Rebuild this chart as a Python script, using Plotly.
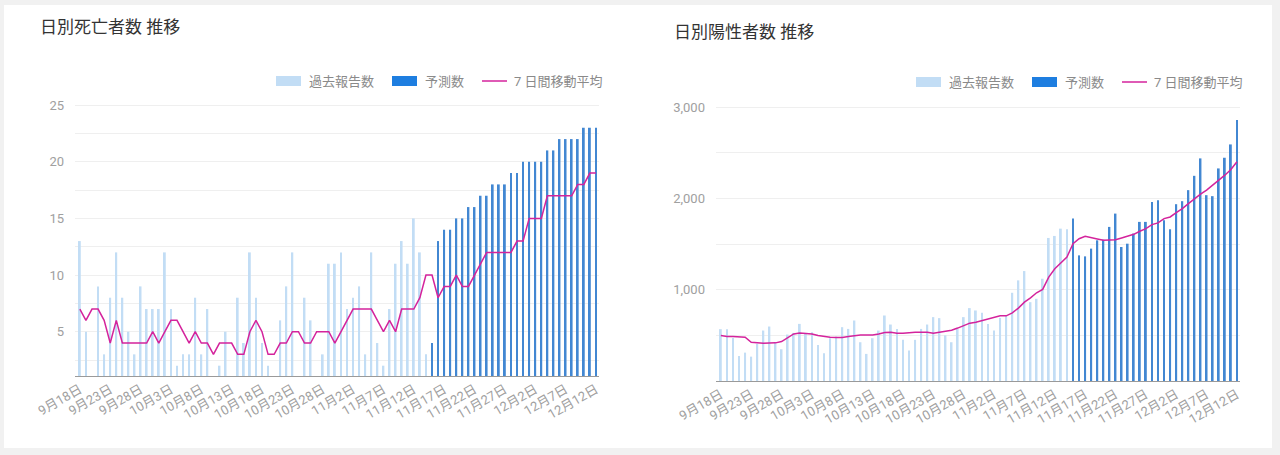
from datetime import date, timedelta

from plotly.graph_objs import Figure, Bar, Scatter

# ---- data -------------------------------------------------------------
START = date(2020, 9, 18)
N_DAYS = 86
DATES = [f"{d.month}月{d.day}日" for d in (START + timedelta(days=i) for i in range(N_DAYS))]
TICK_DATES = DATES[::5]

# deaths per day (reported) 9/18 - 11/14
DEATHS_PAST = [13, 5, 1, 9, 3, 8, 12, 8, 5, 3, 9, 7, 7, 7, 12, 7, 2, 3, 3, 8,
               3, 7, 1, 2, 5, 1, 8, 4, 12, 8, 4, 2, 1, 6, 9, 12, 1, 8, 6, 1,
               3, 11, 11, 12, 7, 8, 9, 3, 12, 4, 2, 7, 11, 13, 11, 15, 12, 3]
# deaths per day (forecast) 11/15 - 12/12
DEATHS_FORECAST = [4, 13, 14, 14, 15, 15, 16, 16, 17, 17, 18, 18, 18, 19, 19, 20,
                   20, 20, 20, 21, 21, 22, 22, 22, 22, 23, 23, 23]
DEATHS_MA = [7, 6, 7, 7, 6, 4, 6, 4, 4, 4, 4, 4, 5, 4, 5, 6, 6, 5, 4, 5,
             4, 4, 3, 4, 4, 4, 3, 3, 5, 6, 5, 3, 3, 4, 4, 5, 5, 4, 4, 5,
             5, 5, 4, 5, 6, 7, 7, 7, 7, 6, 5, 6, 5, 7, 7, 7, 8, 10, 10, 8,
             9, 9, 10, 9, 9, 10, 11, 12, 12, 12, 12, 12, 13, 13, 15, 15, 15, 17, 17, 17,
             17, 17, 18, 18, 19, 19]
DEATHS_TICKS = [5, 10, 15, 20, 25]

# positive cases per day
POSITIVE_PAST = [568, 568, 470, 275, 311, 267, 407, 553, 597, 425, 348, 509, 527, 626, 527,
                 535, 395, 304, 469, 487, 590, 571, 663, 425, 297, 469, 553, 718, 619, 571,
                 451, 333, 451, 571, 619, 700, 689, 500, 425, 571, 700, 799, 773, 747, 626,
                 553, 692, 718, 967, 1103, 1205, 864, 901, 1121, 1568, 1590, 1670, 1663]
POSITIVE_FORECAST = [1780, 1377, 1366, 1451, 1542, 1549, 1689, 1835, 1469, 1505, 1615, 1744,
                     1744, 1963, 1982, 1762, 1663, 1938, 1971, 2092, 2249, 2440, 2037, 2026,
                     2330, 2447, 2593, 2861]
POSITIVE_MA = [498, 487, 487, 487, 480, 425, 418, 414, 416, 418, 432, 472, 516, 527, 524,
               516, 498, 487, 480, 476, 476, 487, 498, 505, 505, 505, 516, 531, 535, 524,
               524, 531, 535, 535, 535, 524, 535, 549, 556, 580, 608, 634, 645, 663, 681,
               700, 714, 714, 747, 799, 864, 912, 967, 1004, 1139, 1231, 1297, 1359, 1505,
               1560, 1586, 1568, 1557, 1542, 1542, 1549, 1568, 1586, 1608, 1641, 1670, 1714,
               1733, 1780, 1798, 1846, 1890, 1945, 2000, 2048, 2092, 2147, 2194, 2256, 2319,
               2403]
POSITIVE_TICKS = [1000, 2000, 3000]

LEGEND_LABELS = ['過去報告数', '予測数', '7 日間移動平均']

# ---- style ------------------------------------------------------------
W, H = 1280, 455
PAST_COLOUR = '#c2ddf5'
FORECAST_COLOUR = '#4287d2'
LEGEND_FORECAST_COLOUR = '#1e7ee0'
MA_COLOUR = '#d4239c'
GRID_COLOUR = '#efefef'
TICK_COLOUR = '#a0a0a0'
FONT = 'Roboto, "Noto Sans CJK JP", sans-serif'
BAR_WIDTH = 0.3


def px_x(x):
    return x / W


def px_y(y):
    return 1 - y / H


def add_panel(fig, col, past, forecast, ma, ticks, title, title_pos, x_dom, y_dom,
              y_range, legend_x, legend_y):
    """Add one bar + moving average panel to the figure"""
    xa = 'x' if col == 1 else 'x2'
    ya = 'y' if col == 1 else 'y2'
    n_past = len(past)
    fig.add_trace(Bar(x=DATES[:n_past], y=past, width=BAR_WIDTH,
                      marker=dict(color=PAST_COLOUR, line=dict(width=0)),
                      name=LEGEND_LABELS[0], xaxis=xa, yaxis=ya))
    fig.add_trace(Bar(x=DATES[n_past:], y=forecast, width=BAR_WIDTH,
                      marker=dict(color=FORECAST_COLOUR, line=dict(width=0)),
                      name=LEGEND_LABELS[1], xaxis=xa, yaxis=ya))
    fig.add_trace(Scatter(x=DATES, y=ma, mode='lines',
                          line=dict(color=MA_COLOUR, width=1.5),
                          name=LEGEND_LABELS[2], xaxis=xa, yaxis=ya))

    step = ticks[1] - ticks[0]
    axis_x = dict(domain=[px_x(x_dom[0]), px_x(x_dom[1])], anchor=ya, automargin=False,
                  type='category', range=[-0.8, N_DAYS - 0.5],
                  tickmode='array', tickvals=TICK_DATES, ticktext=TICK_DATES,
                  tickangle=-30, tickfont=dict(size=13, color=TICK_COLOUR),
                  showgrid=False, showline=True, linecolor='#9a9a9a', linewidth=1,
                  ticks='', zeroline=False)
    axis_y = dict(domain=[px_y(y_dom[1]), px_y(y_dom[0])], anchor=xa, automargin=False,
                  range=y_range, tickmode='array', tickvals=ticks, tickformat=',d',
                  tickfont=dict(size=13, color=TICK_COLOUR),
                  showgrid=True, gridcolor=GRID_COLOUR, gridwidth=1,
                  minor=dict(dtick=step / 2, tick0=0, showgrid=True,
                             gridcolor=GRID_COLOUR, gridwidth=1),
                  zeroline=False, showline=False, ticks='', ticklabelstandoff=10)
    if col == 1:
        fig.update_layout(xaxis=axis_x, yaxis=axis_y)
    else:
        fig.update_layout(xaxis2=axis_x, yaxis2=axis_y)

    # title
    fig.add_annotation(x=px_x(title_pos[0]), y=px_y(title_pos[1]), xref='paper', yref='paper',
                       text=title, showarrow=False, xanchor='left', yanchor='middle',
                       font=dict(size=17, color='#333333'))

    # legend drawn by hand to keep the wide swatches
    lx, ly = legend_x, legend_y
    items = [('rect', PAST_COLOUR, LEGEND_LABELS[0], 0, 31),
             ('rect', LEGEND_FORECAST_COLOUR, LEGEND_LABELS[1], 116, 147),
             ('line', MA_COLOUR, LEGEND_LABELS[2], 206, 236)]
    for kind, colour, label, sx, tx in items:
        if kind == 'rect':
            fig.add_shape(type='rect', xref='paper', yref='paper',
                          x0=px_x(lx + sx), x1=px_x(lx + sx + 25),
                          y0=px_y(ly - 5), y1=px_y(ly + 5),
                          fillcolor=colour, line=dict(width=0))
        else:
            fig.add_shape(type='line', xref='paper', yref='paper',
                          x0=px_x(lx + sx), x1=px_x(lx + sx + 25),
                          y0=px_y(ly), y1=px_y(ly),
                          line=dict(color=colour, width=1.5))
        fig.add_annotation(x=px_x(lx + tx), y=px_y(ly), xref='paper', yref='paper',
                           text=label, showarrow=False, xanchor='left', yanchor='middle',
                           font=dict(size=13, color='#8a8a8a'))


fig = Figure()

# white card behind both charts
fig.add_shape(type='rect', xref='paper', yref='paper', layer='below',
              x0=px_x(4), x1=px_x(1272), y0=px_y(448), y1=px_y(5),
              fillcolor='white', line=dict(width=0))

add_panel(fig, 1, DEATHS_PAST, DEATHS_FORECAST, DEATHS_MA, DEATHS_TICKS,
          '日別死亡者数 推移', (38, 27), (75, 599), (100, 376), [1.09, 25.45], 276, 81)
add_panel(fig, 2, POSITIVE_PAST, POSITIVE_FORECAST, POSITIVE_MA, POSITIVE_TICKS,
          '日別陽性者数 推移', (672, 32), (716, 1240), (100, 381), [0, 3080], 916, 82)

fig.update_layout(width=W, height=H, margin=dict(l=0, r=0, t=0, b=0),
                  paper_bgcolor='#f1f1f1', plot_bgcolor='rgba(0,0,0,0)',
                  barmode='overlay', showlegend=False,
                  font=dict(family=FONT, color=TICK_COLOUR))

# drop the browser's default body margin so the figure sits at the page corner
fig.write_html("out.html", config={'displayModeBar': False},
               post_script="document.body.style.margin = '0';")
